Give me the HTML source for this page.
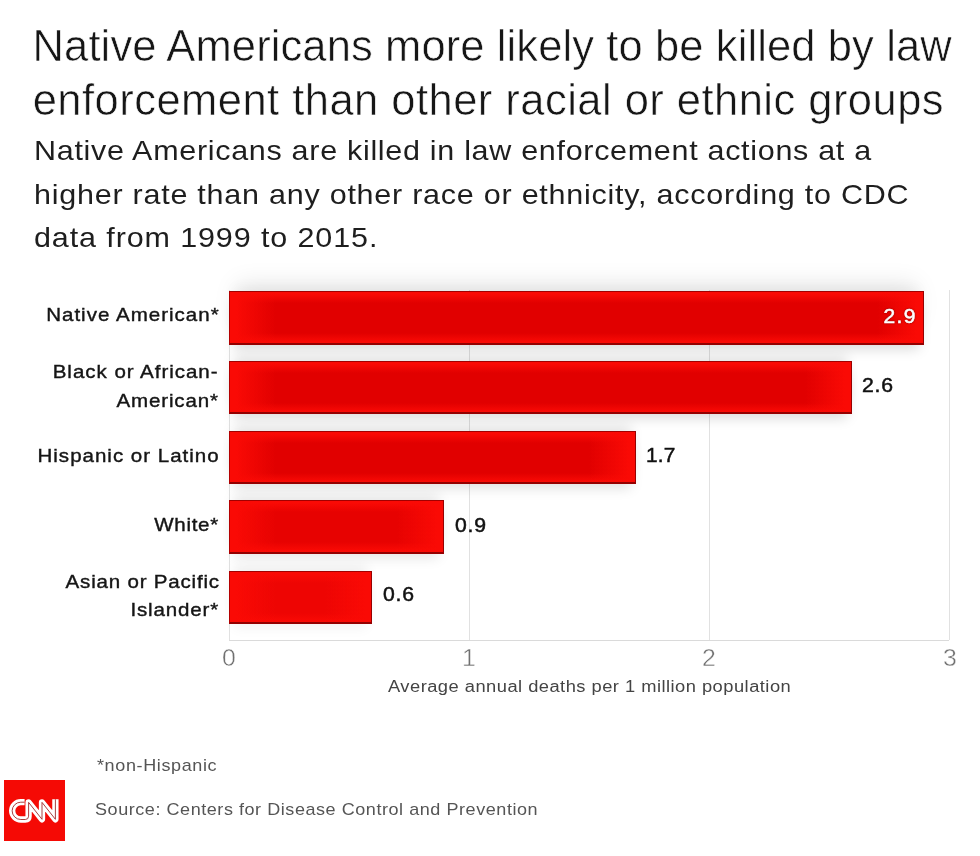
<!DOCTYPE html>
<html lang="en">
<head>
<meta charset="utf-8">
<title>Native Americans more likely to be killed by law enforcement</title>
<style>
html,body{margin:0;padding:0;background:#fff;}
body{width:980px;height:856px;position:relative;overflow:hidden;font-family:"Liberation Sans", sans-serif;}
.t{position:absolute;white-space:nowrap;margin:0;}
.grid{position:absolute;top:290px;height:350px;width:1px;background:#e1e1e1;}
.axis{position:absolute;left:229px;top:640px;width:720px;height:1px;background:#dadada;}
.bar{position:absolute;left:228.9px;height:53.6px;box-sizing:border-box;border:1px solid #b40000;border-bottom:2px solid #940000;border-right:1.5px solid #980000;border-top:1.5px solid #a20000;
 background:
  linear-gradient(90deg,#fa0a05 0,#fa0a05 6px,rgba(250,10,5,0) 46px),
  linear-gradient(270deg,#fa0a05 0,#fa0a05 6px,rgba(250,10,5,0) 46px),
  linear-gradient(180deg,#fa0a05 0,#fa0a05 2px,var(--c,#e10000) 11px,var(--c,#e10000) 41px,#fa0a05 50px,#fa0a05 100%);
 box-shadow:0 9px 12px -5px rgba(0,0,0,var(--sb,.15)), 0 -9px 12px -5px rgba(0,0,0,var(--st,.12)), 0 var(--sy,0) var(--sr,0) -8px rgba(0,0,0,.10);}
</style>
</head>
<body>
<h1 style="margin:0;font-weight:400">
<span class="t" id="t1" style="top:25.18px;font-size:43.5px;line-height:43.5px;color:#161616;letter-spacing:0.111px;left:32.6px;-webkit-text-stroke:0.6px #fff;">Native Americans more likely to be killed by law</span>
<span class="t" id="t2" style="top:79.18px;font-size:43.5px;line-height:43.5px;color:#161616;letter-spacing:0.468px;left:32.7px;-webkit-text-stroke:0.6px #fff;">enforcement than other racial or ethnic groups</span>
</h1>
<p style="margin:0">
<span class="t" id="s1" style="top:135.87px;font-size:28.5px;line-height:28.5px;color:#1e1e1e;letter-spacing:0.653px;left:33.8px;transform:scaleX(1.07);transform-origin:left center;">Native Americans are killed in law enforcement actions at a</span>
<span class="t" id="s2" style="top:179.57px;font-size:28.5px;line-height:28.5px;color:#1e1e1e;letter-spacing:0.709px;left:33.8px;transform:scaleX(1.07);transform-origin:left center;">higher rate than any other race or ethnicity, according to CDC</span>
<span class="t" id="s3" style="top:223.47px;font-size:28.5px;line-height:28.5px;color:#1e1e1e;letter-spacing:0.83px;left:34.3px;transform:scaleX(1.07);transform-origin:left center;">data from 1999 to 2015.</span>
</p>
<div id="chart">
<div class="grid" style="left:228.5px"></div>
<div class="grid" style="left:468.5px"></div>
<div class="grid" style="left:708.5px"></div>
<div class="grid" style="left:948.5px"></div>
<div class="axis"></div>
<div class="bar" style="top:291px;width:695.6px;--sb:0.15;--st:0.04;--sy:-15px;--sr:24px"></div>
<div class="bar" style="top:360.85px;width:623.6px;--sb:0.15;--st:0.12"></div>
<div class="bar" style="top:430.7px;width:407.6px;--sb:0.13;--st:0.12"></div>
<div class="bar" style="top:500.4px;width:215.6px;--sb:0.1;--st:0.1;--c:#e70201"></div>
<div class="bar" style="top:570.6px;width:143.6px;--sb:0.05;--st:0.08;--c:#ee0503"></div>

<span class="t" id="l1" style="top:304.92px;font-size:19px;line-height:19px;color:#151515;letter-spacing:0.937px;right:760.69px;transform:scaleX(1.08);transform-origin:right center;-webkit-text-stroke:0.4px #151515;">Native American*</span>
<span class="t" id="l2a" style="top:362.12px;font-size:19px;line-height:19px;color:#151515;letter-spacing:0.892px;right:761.54px;transform:scaleX(1.08);transform-origin:right center;-webkit-text-stroke:0.4px #151515;">Black or African-</span>
<span class="t" id="l2b" style="top:391.22px;font-size:19px;line-height:19px;color:#151515;letter-spacing:0.811px;right:760.82px;transform:scaleX(1.08);transform-origin:right center;-webkit-text-stroke:0.4px #151515;">American*</span>
<span class="t" id="l3" style="top:445.52px;font-size:19px;line-height:19px;color:#151515;letter-spacing:0.922px;right:760.20px;transform:scaleX(1.08);transform-origin:right center;-webkit-text-stroke:0.4px #151515;">Hispanic or Latino</span>
<span class="t" id="l4" style="top:514.92px;font-size:19px;line-height:19px;color:#151515;letter-spacing:0.647px;right:761.00px;transform:scaleX(1.08);transform-origin:right center;-webkit-text-stroke:0.4px #151515;">White*</span>
<span class="t" id="l5a" style="top:571.52px;font-size:19px;line-height:19px;color:#151515;letter-spacing:0.75px;right:760.39px;transform:scaleX(1.08);transform-origin:right center;-webkit-text-stroke:0.4px #151515;">Asian or Pacific</span>
<span class="t" id="l5b" style="top:600.12px;font-size:19px;line-height:19px;color:#151515;letter-spacing:0.789px;right:760.85px;transform:scaleX(1.08);transform-origin:right center;-webkit-text-stroke:0.4px #151515;">Islander*</span>
<span class="t" id="v1" style="top:305.22px;font-size:21px;line-height:21px;color:#fff;letter-spacing:1.3px;right:63.40px;-webkit-text-stroke:0.55px #fff;text-shadow:0 0 2px rgba(110,0,0,.9),0 0 1.5px rgba(110,0,0,.8);">2.9</span>
<span class="t" id="v2" style="top:375.27px;font-size:20px;line-height:20px;color:#111;letter-spacing:0.702px;left:862px;transform:scaleX(1.06);transform-origin:left center;-webkit-text-stroke:0.5px #111;">2.6</span>
<span class="t" id="v3" style="top:444.67px;font-size:20px;line-height:20px;color:#111;letter-spacing:0.22px;left:646px;transform:scaleX(1.04);transform-origin:left center;-webkit-text-stroke:0.5px #111;">1.7</span>
<span class="t" id="v4" style="top:514.57px;font-size:20px;line-height:20px;color:#111;letter-spacing:0.702px;left:454.5px;transform:scaleX(1.06);transform-origin:left center;-webkit-text-stroke:0.5px #111;">0.9</span>
<span class="t" id="v5" style="top:584.47px;font-size:20px;line-height:20px;color:#111;letter-spacing:0.702px;left:382.5px;transform:scaleX(1.06);transform-origin:left center;-webkit-text-stroke:0.5px #111;">0.6</span>
<span class="t" id="k0" style="top:646.53px;font-size:23px;line-height:23px;color:#707070;left:179.4px;width:100px;text-align:center;transform:scaleX(1.08);transform-origin:center center;-webkit-text-stroke:0.4px #fff;">0</span>
<span class="t" id="k1" style="top:646.53px;font-size:23px;line-height:23px;color:#707070;left:419.4px;width:100px;text-align:center;transform:scaleX(1.08);transform-origin:center center;-webkit-text-stroke:0.4px #fff;">1</span>
<span class="t" id="k2" style="top:646.53px;font-size:23px;line-height:23px;color:#707070;left:659.4px;width:100px;text-align:center;transform:scaleX(1.08);transform-origin:center center;-webkit-text-stroke:0.4px #fff;">2</span>
<span class="t" id="k3" style="top:646.53px;font-size:23px;line-height:23px;color:#707070;left:899.5px;width:100px;text-align:center;transform:scaleX(1.08);transform-origin:center center;-webkit-text-stroke:0.4px #fff;">3</span>
<span class="t" id="ax" style="top:678.36px;font-size:17.3px;line-height:17.3px;color:#444;letter-spacing:0.444px;left:387.5px;transform:scaleX(1.06);transform-origin:left center;">Average annual deaths per 1 million population</span>
<span class="t" id="n1" style="top:757.01px;font-size:17px;line-height:17px;color:#555;letter-spacing:0.577px;left:96.5px;transform:scaleX(1.06);transform-origin:left center;">*non-Hispanic</span>
<span class="t" id="n2" style="top:800.61px;font-size:17px;line-height:17px;color:#555;letter-spacing:0.518px;left:94.7px;transform:scaleX(1.06);transform-origin:left center;">Source: Centers for Disease Control and Prevention</span>
</div>
<svg id="logo" width="61" height="61" viewBox="0 0 61 61" style="position:absolute;left:3.5px;top:780px">
<rect width="61" height="61" fill="#f50a05"/>
<g fill="none" stroke-linecap="butt" stroke-linejoin="round">
<path d="M20.6 22.2 H16.8 A8.65 8.65 0 0 0 16.8 39.5 H21.3 Q24.6 39.5 24.6 36.2 V22.4 L38 39.3 V22.4 L51.4 39.3 V19.3" stroke="#fff" stroke-width="6.3"/>
<path d="M20.6 22.2 H16.8 A8.65 8.65 0 0 0 16.8 39.5 H21.3 Q24.6 39.5 24.6 36.2 V22.4 L38 39.3 V22.4 L51.4 39.3 V19.3" stroke="#a02a2a" stroke-width="0.9"/>
</g>
</svg>
</body>
</html>
